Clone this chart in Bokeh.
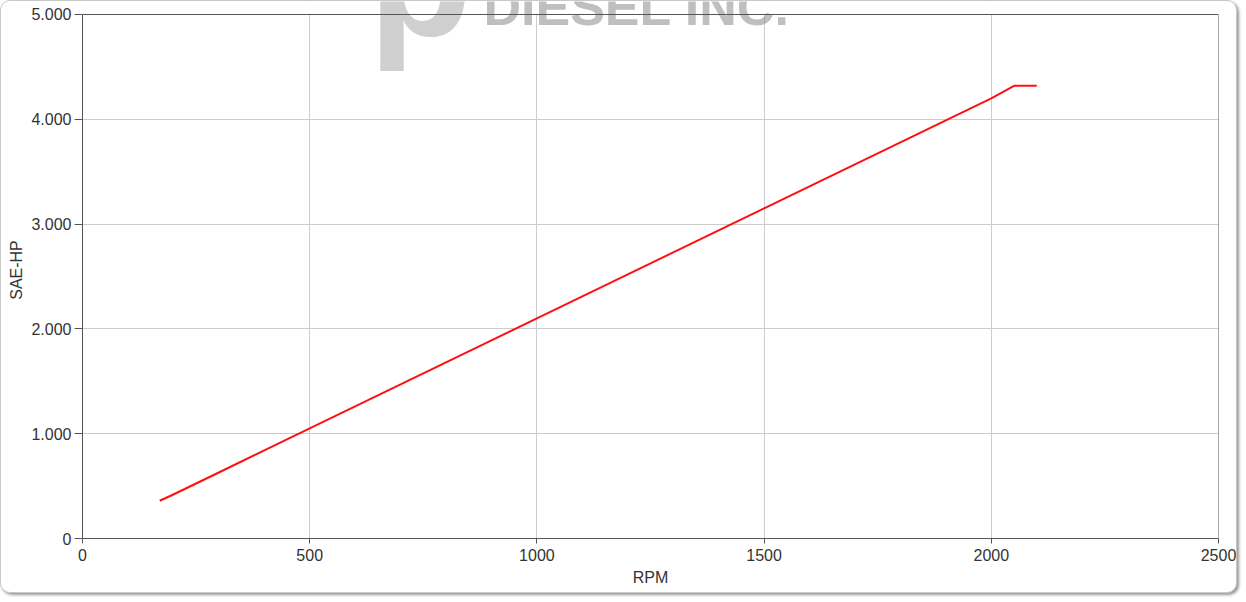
from bokeh.plotting import figure
from bokeh.embed import file_html
from bokeh.resources import INLINE
from bokeh.models import FixedTicker, Label, Range1d, Span, BoxAnnotation

rpm = [170, 200, 300, 400, 500, 600, 700, 800, 900, 1000, 1100, 1200, 1300,
       1400, 1500, 1600, 1700, 1800, 1900, 2000, 2050, 2100]
sae_hp = [0.36, 0.42, 0.63, 0.84, 1.05, 1.26, 1.47, 1.68, 1.89, 2.10, 2.31, 2.52,
          2.73, 2.94, 3.15, 3.36, 3.57, 3.78, 3.99, 4.20, 4.32, 4.32]
x_ticks = [0, 500, 1000, 1500, 2000, 2500]
y_ticks = [0, 1, 2, 3, 4, 5]
y_tick_labels = ["0", "1.000", "2.000", "3.000", "4.000", "5.000"]

FONT = "Liberation Sans"
AXIS_COLOR = "#555555"
TEXT_COLOR = "#333333"

y_top = y_ticks[-1]
x_end = x_ticks[-1]
# frame extends a little above the top tick so the watermark can show there
p = figure(width=1237, height=593, output_backend="svg", toolbar_location=None,
           x_range=Range1d(0, x_end), y_range=Range1d(0, y_top * 1.0248),
           min_border_left=81, min_border_right=20, min_border_top=0, min_border_bottom=56)
p.styles = {"border": "1px solid #c8c8c8", "border-radius": "10px",
            "box-shadow": "2px 2px 3px #999999", "background": "white"}

p.outline_line_color = None
p.background_fill_color = "white"
p.border_fill_color = None

p.line(rpm, sae_hp, line_color="#ff1010", line_width=2)

# white mask above the top of the value scale (hides grid lines there)
p.add_layout(BoxAnnotation(bottom=y_top, fill_color="white", fill_alpha=1.0,
                           line_color=None))

logo = Label(x=286, y=562, x_units="screen", y_units="screen", text="p",
             text_font=FONT, text_font_style="bold", text_font_size="170px",
             text_baseline="alphabetic",
             text_color="#a0a0a0", text_alpha=0.5)
brand = Label(x=401, y=532, x_units="screen", y_units="screen", text="DIESEL INC.",
              text_font=FONT, text_font_style="bold", text_font_size="52px",
              text_baseline="alphabetic",
              text_color="#8a8a8a", text_alpha=0.55)
p.add_layout(logo)
p.add_layout(brand)

# top and right border of the plot area
p.add_layout(Span(location=y_top, dimension="width", line_color=AXIS_COLOR, line_width=1))
p.segment(x0=[x_end], y0=[0], x1=[x_end], y1=[y_top], line_color=AXIS_COLOR, line_width=1)

p.xaxis.ticker = FixedTicker(ticks=x_ticks)
p.yaxis.ticker = FixedTicker(ticks=y_ticks)
p.yaxis.major_label_overrides = {t: l for t, l in zip(y_ticks, y_tick_labels)}
p.yaxis.bounds = (0, y_top)
p.xaxis.minor_tick_line_color = None
p.yaxis.minor_tick_line_color = None

for ax in (p.xaxis, p.yaxis):
    ax.axis_line_color = AXIS_COLOR
    ax.major_tick_line_color = AXIS_COLOR
    ax.major_tick_in = 0
    ax.major_label_text_font = FONT
    ax.major_label_text_font_size = "16px"
    ax.major_label_text_color = TEXT_COLOR
    ax.axis_label_text_font = FONT
    ax.axis_label_text_font_size = "16px"
    ax.axis_label_text_font_style = "normal"
    ax.axis_label_text_color = TEXT_COLOR

p.xaxis.major_tick_out = 5
p.yaxis.major_tick_out = 8
p.xaxis.axis_label = "RPM"
p.yaxis.axis_label = "SAE-HP"
p.xaxis.major_label_standoff = 5
p.yaxis.major_label_standoff = 3
p.xaxis.axis_label_standoff = 5
p.yaxis.axis_label_standoff = 3

p.grid.grid_line_color = "#cccccc"
p.grid.grid_line_width = 1

open("out.html", "w").write(file_html(p, INLINE))
